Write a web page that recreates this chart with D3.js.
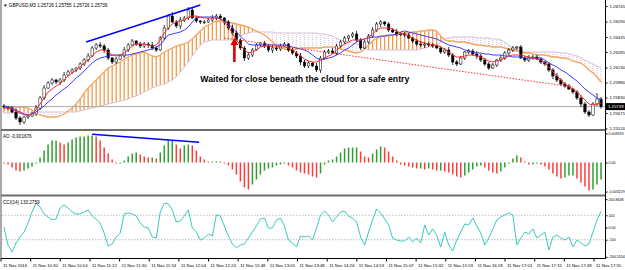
<!DOCTYPE html>
<html><head><meta charset="utf-8">
<script src="https://cdn.jsdelivr.net/npm/d3@7"></script>
<style>
html,body{margin:0;padding:0;background:#fff;}
svg{display:block;font-family:"Liberation Sans",Arial,sans-serif;}
</style></head><body>
<svg id="chart" width="625" height="270"></svg>
<script>
/* ---- data (GBPUSD M3) ---- */
var firstOpen = 1.25745;
var closes = [
 1.25735,1.25725,1.25685,1.25625,1.25585,1.25635,1.25645,1.25665,1.25725,1.25825,
 1.25925,1.25975,1.26005,1.25985,1.26005,1.26055,1.26085,1.26105,1.26125,1.26165,
 1.26205,1.26245,1.26325,1.26355,1.26345,1.26305,1.26225,1.26185,1.26215,1.26245,
 1.26305,1.26355,1.26395,1.26365,1.26345,1.26365,1.26355,1.26325,1.26305,1.26425,
 1.26525,1.26645,1.26585,1.26545,1.26605,1.26625,1.26705,1.26625,1.26595,1.26585,
 1.26585,1.26605,1.26625,1.26645,1.26625,1.26585,1.26525,1.26475,1.26405,1.26325,
 1.26225,1.26255,1.26305,1.26355,1.26375,1.26345,1.26305,1.26325,1.26315,1.26345,
 1.26365,1.26305,1.26275,1.26245,1.26185,1.26145,1.26175,1.26145,1.26105,1.26225,
 1.26285,1.26295,1.26275,1.26345,1.26385,1.26425,1.26445,1.26465,1.26405,1.26325,
 1.26385,1.26445,1.26505,1.26565,1.26585,1.26565,1.26505,1.26485,1.26465,1.26465,
 1.26455,1.26425,1.26395,1.26365,1.26355,1.26365,1.26355,1.26345,1.26325,1.26285,
 1.26305,1.26255,1.26185,1.26165,1.26225,1.26285,1.26295,1.26265,1.26245,1.26205,
 1.26165,1.26125,1.26155,1.26205,1.26225,1.26275,1.26305,1.26325,1.26335,1.26225,
 1.26205,1.26225,1.26235,1.26215,1.26185,1.26165,1.26105,1.26045,1.26005,1.25965,
 1.25945,1.25915,1.25885,1.25825,1.25765,1.25685,1.25655,1.25765,1.25815,1.25739];
// wick lengths beyond the body, in pips
var wickHi = [2,1,2,3,2,1,2,2,3,2, 3,2,2,1,2,3,2,2,1,2, 2,3,2,2,3,2,2,1,2,2, 3,2,2,1,2,2,2,3,2,2,
 3,2,4,2,3,2,3,2,2,1, 2,2,3,2,2,1,2,3,2,2, 2,3,2,2,1,2,2,3,2,2, 2,1,2,2,3,2,2,1,3,2,
 2,2,3,2,2,2,1,2,3,2, 2,2,3,2,2,1,2,2,3,2, 2,2,1,2,3,2,2,2,1,2, 2,3,2,2,2,1,2,2,3,2,
 2,2,2,1,3,2,2,2,1,2, 2,3,2,2,2,1,2,2,3,2, 2,2,1,2,3,2,2,2,6,2];
var wickLo = [2,2,1,2,3,2,2,1,2,2, 2,1,2,2,3,2,1,2,2,2, 2,2,1,2,2,3,2,2,2,1, 2,2,1,2,2,2,3,2,2,1,
 2,2,1,2,3,2,2,1,2,2, 2,1,2,2,2,3,2,2,1,2, 3,2,2,1,2,2,2,3,2,2, 1,2,2,2,3,2,2,1,2,3,
 2,2,1,2,2,2,3,2,2,2, 1,2,2,2,3,2,2,1,2,2, 2,1,2,2,2,3,2,2,1,2, 2,2,3,2,1,2,2,2,3,2,
 2,2,1,2,2,2,3,2,2,1, 2,2,2,1,2,2,2,3,2,2, 2,1,2,2,3,2,2,1,2,2];
var tenkan = [
 1.25725,1.25725,1.25715,1.25695,1.25675,1.25655,1.25655,1.25665,1.25705,1.25765,
 1.25825,1.25885,1.25915,1.25945,1.25965,1.26005,1.26045,1.26075,1.26105,1.26135,
 1.26175,1.26205,1.26245,1.26285,1.26305,1.26305,1.26285,1.26255,1.26245,1.26255,
 1.26275,1.26305,1.26345,1.26365,1.26365,1.26365,1.26355,1.26345,1.26355,1.26405,
 1.26475,1.26525,1.26565,1.26585,1.26595,1.26605,1.26635,1.26645,1.26645,1.26635,
 1.26625,1.26625,1.26625,1.26625,1.26615,1.26585,1.26535,1.26475,1.26405,1.26355,
 1.26305,1.26275,1.26285,1.26305,1.26335,1.26345,1.26345,1.26335,1.26335,1.26335,
 1.26335,1.26325,1.26305,1.26275,1.26245,1.26215,1.26195,1.26185,1.26185,1.26205,
 1.26225,1.26245,1.26265,1.26305,1.26335,1.26365,1.26385,1.26405,1.26405,1.26405,
 1.26415,1.26435,1.26465,1.26505,1.26525,1.26525,1.26525,1.26515,1.26495,1.26475,
 1.26465,1.26445,1.26425,1.26405,1.26385,1.26375,1.26365,1.26355,1.26355,1.26335,
 1.26315,1.26285,1.26255,1.26235,1.26235,1.26245,1.26255,1.26255,1.26245,1.26235,
 1.26215,1.26195,1.26185,1.26195,1.26205,1.26225,1.26245,1.26255,1.26255,1.26255,
 1.26245,1.26235,1.26225,1.26215,1.26205,1.26175,1.26135,1.26085,1.26045,1.26005,
 1.25965,1.25935,1.25915,1.25885,1.25845,1.25805,1.25765,1.25755,1.25765,1.25775];
var kijun = [
 1.25745,1.25735,1.25725,1.25705,1.25685,1.25665,1.25655,1.25665,1.25685,1.25715,
 1.25745,1.25785,1.25815,1.25855,1.25885,1.25915,1.25945,1.25985,1.26025,1.26055,
 1.26095,1.26135,1.26175,1.26205,1.26225,1.26235,1.26245,1.26255,1.26255,1.26255,
 1.26255,1.26255,1.26265,1.26275,1.26285,1.26295,1.26305,1.26315,1.26335,1.26355,
 1.26405,1.26455,1.26465,1.26475,1.26485,1.26505,1.26535,1.26585,1.26625,1.26635,
 1.26635,1.26635,1.26635,1.26635,1.26615,1.26595,1.26565,1.26525,1.26485,1.26445,
 1.26405,1.26365,1.26355,1.26355,1.26355,1.26355,1.26355,1.26355,1.26355,1.26355,
 1.26355,1.26345,1.26335,1.26325,1.26315,1.26305,1.26285,1.26255,1.26225,1.26205,
 1.26215,1.26225,1.26235,1.26255,1.26275,1.26305,1.26325,1.26355,1.26385,1.26405,
 1.26415,1.26425,1.26435,1.26435,1.26445,1.26445,1.26455,1.26455,1.26465,1.26485,
 1.26495,1.26485,1.26475,1.26465,1.26455,1.26445,1.26435,1.26425,1.26415,1.26395,
 1.26375,1.26355,1.26345,1.26335,1.26325,1.26305,1.26295,1.26285,1.26275,1.26275,
 1.26265,1.26265,1.26255,1.26255,1.26255,1.26245,1.26245,1.26235,1.26235,1.26235,
 1.26225,1.26225,1.26225,1.26225,1.26225,1.26205,1.26175,1.26155,1.26135,1.26105,
 1.26085,1.26055,1.26025,1.25995,1.25955,1.25915,1.25885,1.25855,1.25825,1.25805];
var spanA = [
 1.25735,1.25735,1.25735,1.25735,1.25735,1.25735,1.25725,1.25705,1.25675,1.25655,
 1.25645,1.25635,1.25635,1.25635,1.25645,1.25665,1.25695,1.25725,1.25765,1.25815,
 1.25875,1.25925,1.25965,1.26005,1.26045,1.26085,1.26125,1.26145,1.26165,1.26185,
 1.26215,1.26235,1.26255,1.26265,1.26275,1.26285,1.26265,1.26245,1.26235,1.26255,
 1.26285,1.26305,1.26325,1.26345,1.26355,1.26365,1.26385,1.26415,1.26455,1.26495,
 1.26535,1.26555,1.26575,1.26595,1.26595,1.26595,1.26585,1.26575,1.26565,1.26555,
 1.26545,1.26535,1.26515,1.26495,1.26475,1.26455,1.26425,1.26385,1.26345,1.26325,
 1.26315,1.26305,1.26305,1.26315,1.26325,1.26325,1.26325,1.26325,1.26325,1.26325,
 1.26335,1.26335,1.26335,1.26325,1.26315,1.26305,1.26295,1.26285,1.26275,1.26285,
 1.26315,1.26355,1.26395,1.26425,1.26435,1.26445,1.26445,1.26455,1.26455,1.26465,
 1.26475,1.26475,1.26485,1.26485,1.26495,1.26495,1.26505,1.26505,1.26495,1.26445,
 1.26405,1.26395,1.26395,1.26385,1.26385,1.26385,1.26375,1.26365,1.26355,1.26355,
 1.26345,1.26345,1.26335,1.26335,1.26335,1.26325,1.26315,1.26305,1.26295,1.26285,
 1.26275,1.26275,1.26265,1.26255,1.26255,1.26255,1.26245,1.26235,1.26235,1.26225,
 1.26225,1.26215,1.26195,1.26185,1.26175,1.26145,1.26105,1.26075,1.26035,1.25985];
var spanB = [
 1.25675,1.25675,1.25675,1.25675,1.25675,1.25675,1.25675,1.25675,1.25685,1.25685,
 1.25685,1.25685,1.25685,1.25685,1.25685,1.25685,1.25685,1.25685,1.25685,1.25695,
 1.25705,1.25715,1.25725,1.25735,1.25745,1.25755,1.25765,1.25775,1.25785,1.25795,
 1.25805,1.25815,1.25835,1.25845,1.25865,1.25885,1.25905,1.25925,1.25945,1.25955,
 1.25965,1.25985,1.26005,1.26035,1.26085,1.26135,1.26185,1.26245,1.26305,1.26355,
 1.26385,1.26395,1.26405,1.26405,1.26405,1.26405,1.26405,1.26405,1.26425,1.26445,
 1.26465,1.26475,1.26485,1.26485,1.26485,1.26485,1.26485,1.26485,1.26475,1.26475,
 1.26475,1.26475,1.26475,1.26475,1.26475,1.26475,1.26475,1.26475,1.26475,1.26465,
 1.26465,1.26455,1.26445,1.26425,1.26405,1.26395,1.26385,1.26375,1.26365,1.26345,
 1.26325,1.26305,1.26305,1.26305,1.26305,1.26305,1.26305,1.26305,1.26305,1.26305,
 1.26305,1.26305,1.26305,1.26305,1.26315,1.26325,1.26335,1.26345,1.26355,1.26385,
 1.26415,1.26425,1.26435,1.26435,1.26435,1.26435,1.26435,1.26435,1.26425,1.26425,
 1.26425,1.26425,1.26415,1.26415,1.26405,1.26385,1.26355,1.26325,1.26305,1.26295,
 1.26285,1.26285,1.26285,1.26285,1.26285,1.26285,1.26285,1.26285,1.26285,1.26275,
 1.26275,1.26265,1.26255,1.26245,1.26225,1.26205,1.26185,1.26165,1.26145,1.26125];
var ao = [
 -0.0001,-0.0002,-0.0005,-0.0008,-0.0009,-0.0008,-0.0006,-0.0004,-0.0001,0.0005,
 0.0012,0.0018,0.0022,0.0022,0.0020,0.0018,0.0020,0.0023,0.0025,0.0026,
 0.0026,0.0027,0.0027,0.0026,0.0022,0.0015,0.0009,0.0003,-0.0001,-0.0001,
 0.0002,0.0006,0.0009,0.0010,0.0008,0.0006,0.0005,0.0005,0.0004,0.0010,
 0.0017,0.0022,0.0022,0.0018,0.0014,0.0017,0.0018,0.0017,0.0012,0.0006,
 0.0003,0.0001,0.0001,0.0001,0.0001,-0.0001,-0.0003,-0.0007,-0.0012,-0.0019,
 -0.0025,-0.0027,-0.0022,-0.0017,-0.0012,-0.0008,-0.0006,-0.0005,-0.0003,-0.0002,
 -0.0001,-0.0003,-0.0005,-0.0008,-0.0010,-0.0011,-0.0012,-0.0014,-0.0015,-0.0011,
 -0.0002,0.0002,0.0003,0.0006,0.0010,0.0014,0.0015,0.0015,0.0015,0.0011,
 0.0006,0.0005,0.0009,0.0013,0.0016,0.0015,0.0011,0.0006,0.0002,-0.0002,
 -0.0003,-0.0004,-0.0005,-0.0006,-0.0006,-0.0007,-0.0006,-0.0007,-0.0008,-0.0008,
 -0.0009,-0.0010,-0.0012,-0.0014,-0.0015,-0.0013,-0.0010,-0.0007,-0.0004,-0.0003,
 -0.0005,-0.0008,-0.0010,-0.0011,-0.0009,-0.0005,-0.0001,0.0004,0.0007,0.0005,
 0.0001,-0.0002,-0.0002,-0.0001,-0.0002,-0.0004,-0.0007,-0.0011,-0.0014,-0.0016,
 -0.0015,-0.0013,-0.0013,-0.0016,-0.0020,-0.0024,-0.0028,-0.0027,-0.0022,-0.0017];
var cci = [
 4,-144,-200,-127,-78,-37,37,127,200,168,
 111,86,62,70,160,184,160,127,111,111,
 127,144,94,70,37,-45,-152,-135,-78,-45,
 111,119,111,94,37,4,-4,-78,-86,127,
 200,193,144,45,53,94,144,-4,-37,-103,
 -86,-53,-70,103,94,12,-70,-135,-168,-144,
 -135,-86,-37,12,70,78,-4,-4,62,78,
 12,-103,-127,-160,-70,-78,-70,-103,-4,103,
 135,103,45,86,127,135,94,78,45,-78,
 -144,-37,62,152,119,70,21,-86,-103,-111,
 -111,-78,-119,-86,-127,21,-62,-12,-62,-160,
 -37,-144,-193,-103,-37,29,21,78,12,-45,
 -144,-86,-12,62,86,103,119,103,-144,-86,
 -37,-53,-12,-86,-62,-37,-185,-78,-62,-86,
 -103,-78,-160,-103,-127,-152,-135,-37,62,133];

var timeLabels = ['11 Nov 2016','11 Nov 10:30','11 Nov 10:54','11 Nov 11:12','11 Nov 11:30',
 '11 Nov 11:54','11 Nov 12:04','11 Nov 12:24','11 Nov 12:48','11 Nov 13:05','11 Nov 13:48',
 '11 Nov 14:24','11 Nov 14:53','11 Nov 15:07','11 Nov 15:32','11 Nov 15:53','11 Nov 16:18',
 '11 Nov 17:01','11 Nov 17:15','11 Nov 17:38','11 Nov 17:55'];
var priceTicks = [1.26745,1.26590,1.26435,1.26285,1.26130,1.25980,1.25830,1.25675,1.25520];
var lastPrice = 1.25739;
var aoTickVals = [0.0029,0,-0.0029], aoTickText = ['0.003593','0.00','-0.003219'];
var cciTickVals = [232,100,0,-100,-240], cciTickText = ['200.8638','100','0.00','-100','-200.5554'];
var cciLevels = [100,-100];
// drawn objects (bar index, value)
var trendUp = [[20.5,1.26385],[49,1.26755]];
var trendDown = [[55,1.26425],[142,1.25935]];
var aoTrend = [[22,0.00282],[48.7,0.00202]];
var arrowPts = [[57.5,1.26185],[57.5,1.26425]];
var noteAt = [49,1.25985];
var noteText = 'Waited for close beneath the cloud for a safe entry';
var header = '\u25BC GBPUSD,M3  1.25726 1.25755 1.25726 1.25739';

/* ---- layout ---- */
var PIP = 0.0001, N = closes.length;
var AX = 605;
var svg = d3.select('#chart');
var x = d3.scaleLinear().domain([0, N-1]).range([4, 601]);
var yP = d3.scaleLinear().domain([1.25550, 1.26750]).range([125.5, 5.5]);
var yA = d3.scaleLinear().domain([-0.0032, 0.0032]).range([194.5, 130.5]);
var yC = d3.scaleLinear().domain([-250, 250]).range([258, 197]);
var xT = d3.scalePoint().domain(timeLabels).range([0.5, 593.5]);

svg.append('rect').attr('width',625).attr('height',270).attr('fill','#fff');
var defs = svg.append('defs');
defs.append('clipPath').attr('id','cMain').append('rect').attr('x',2).attr('y',1).attr('width',AX-2).attr('height',128);

var main = svg.append('g').attr('clip-path','url(#cMain)');

/* Ichimoku cloud (histogram between span A and span B) */
spanA.forEach(function(a,i){
  var b = spanB[i], up = a >= b;
  main.append('line').attr('x1',x(i)).attr('x2',x(i))
    .attr('y1',yP(a)).attr('y2',yP(b))
    .attr('stroke', up ? '#f39a4c' : '#dcc4dc')
    .attr('stroke-width', up ? 1.3 : 1.2)
    .attr('stroke-dasharray', up ? null : '1,1');
});
var line = function(arr){ return d3.line().x(function(d,i){return x(i);}).y(function(d){return yP(d);})(arr); };
main.append('path').attr('d',line(spanB)).attr('fill','none').attr('stroke','#d8bfd8').attr('stroke-width',1);
main.append('path').attr('d',line(spanA)).attr('fill','none').attr('stroke','#f4a460').attr('stroke-width',1.3);

/* bid line */
main.append('line').attr('x1',2).attr('x2',AX).attr('y1',yP(lastPrice)).attr('y2',yP(lastPrice))
  .attr('stroke','#a8a8a8').attr('stroke-width',1);

/* candles */
closes.forEach(function(c,i){
  var o = i ? closes[i-1] : firstOpen;
  var hi = Math.max(o,c) + wickHi[i]*PIP, lo = Math.min(o,c) - wickLo[i]*PIP;
  var cx = x(i);
  main.append('line').attr('x1',cx).attr('x2',cx).attr('y1',yP(hi)).attr('y2',yP(lo))
    .attr('stroke','#000').attr('stroke-width',0.8);
  var t = yP(Math.max(o,c)), b = yP(Math.min(o,c));
  main.append('rect').attr('x',cx-1.2).attr('y',t).attr('width',2.4).attr('height',Math.max(0.8,b-t))
    .attr('fill', c >= o ? '#fff' : '#000').attr('stroke','#000').attr('stroke-width',0.5);
});

/* tenkan / kijun */
main.append('path').attr('d',line(kijun)).attr('fill','none').attr('stroke','#3c3cff').attr('stroke-width',1);
main.append('path').attr('d',line(tenkan)).attr('fill','none').attr('stroke','#ff2a2a').attr('stroke-width',1);

/* drawings */
var seg = d3.line().x(function(d){return x(d[0]);});
main.append('path').attr('d',seg.y(function(d){return yP(d[1]);})(trendUp))
  .attr('stroke','#0000ff').attr('stroke-width',1.4).attr('fill','none');
main.append('path').attr('d',seg.y(function(d){return yP(d[1]);})(trendDown))
  .attr('stroke','#ff3030').attr('stroke-width',1).attr('stroke-dasharray','1.5,1.5').attr('fill','none');

var ax0 = x(arrowPts[0][0]), ayB = yP(arrowPts[0][1]), ayT = yP(arrowPts[1][1]);
main.append('path')
  .attr('d','M'+(ax0-1.3)+','+ayB+'L'+(ax0-1.3)+','+(ayT+7)+'L'+(ax0-4)+','+(ayT+7)+'L'+ax0+','+ayT+
            'L'+(ax0+4)+','+(ayT+7)+'L'+(ax0+1.3)+','+(ayT+7)+'L'+(ax0+1.3)+','+ayB+'Z')
  .attr('fill','#e00000');

var note = svg.append('text').attr('x',x(noteAt[0])).attr('y',yP(noteAt[1]))
  .attr('font-size','10px').attr('font-weight','bold').attr('fill','#000').text(noteText);
var nl = note.node().getComputedTextLength();
note.attr('font-size', (10*209/nl).toFixed(2)+'px');

/* AO histogram */
var gA = svg.append('g');
ao.forEach(function(v,i){
  var up = i === 0 ? v >= 0 : v >= ao[i-1];
  gA.append('line').attr('x1',x(i)).attr('x2',x(i)).attr('y1',yA(0)).attr('y2',yA(v))
    .attr('stroke', up ? '#2e9e2e' : '#ff3b3b').attr('stroke-width',1.5);
});
gA.append('path').attr('d',seg.y(function(d){return yA(d[1]);})(aoTrend))
  .attr('stroke','#0000ff').attr('stroke-width',1.4).attr('fill','none');

/* CCI */
var gC = svg.append('g');
cciLevels.forEach(function(l){
  gC.append('line').attr('x1',2).attr('x2',AX).attr('y1',yC(l)).attr('y2',yC(l))
    .attr('stroke','#c0c0c0').attr('stroke-dasharray','1.5,1.5');
});
gC.append('path').attr('d',d3.line().x(function(d,i){return x(i);}).y(function(d){return yC(d);})(cci))
  .attr('fill','none').attr('stroke','#3cc8c0').attr('stroke-width',1);

/* frames */
var fr = svg.append('g');
fr.append('line').attr('x1',1).attr('x2',1).attr('y1',0).attr('y2',259).attr('stroke','#555');
fr.append('line').attr('x1',AX+0.5).attr('x2',AX+0.5).attr('y1',0).attr('y2',259).attr('stroke','#000');
[130, 195.5].forEach(function(yy){
  fr.append('line').attr('x1',1).attr('x2',AX).attr('y1',yy).attr('y2',yy).attr('stroke','#6e6e6e').attr('stroke-width',2.2);
});
fr.append('line').attr('x1',1).attr('x2',AX).attr('y1',258.5).attr('y2',258.5).attr('stroke','#000');

/* axes */
function styleAxis(fs){
  return function(g){
    g.select('.domain').remove();
    g.selectAll('line').attr('stroke','#000');
    g.selectAll('text').attr('font-size',fs).attr('fill','#000').attr('font-family','"Liberation Sans",Arial,sans-serif');
  };
}
svg.append('g').attr('transform','translate('+(AX+0.5)+',0)')
  .call(d3.axisRight(yP).tickValues(priceTicks).tickFormat(d3.format('.5f')).tickSize(2).tickPadding(2))
  .call(styleAxis('4.3px'));
svg.append('g').attr('transform','translate('+(AX+0.5)+',0)')
  .call(d3.axisRight(yA).tickValues(aoTickVals).tickFormat(function(d,i){return aoTickText[i];}).tickSize(2).tickPadding(1))
  .call(styleAxis('3.6px'));
svg.append('g').attr('transform','translate('+(AX+0.5)+',0)')
  .call(d3.axisRight(yC).tickValues(cciTickVals).tickFormat(function(d,i){return cciTickText[i];}).tickSize(2).tickPadding(1))
  .call(styleAxis('3.6px'));
var tx = svg.append('g').attr('transform','translate(0,258.5)')
  .call(d3.axisBottom(xT).tickSize(3).tickPadding(2)).call(styleAxis('4.3px'));
tx.selectAll('text').attr('text-anchor','start').attr('x',2);

/* last price box */
var ly = yP(lastPrice);
svg.append('rect').attr('x',AX+1).attr('y',ly-3.5).attr('width',19).attr('height',7).attr('fill','#000');
svg.append('text').attr('x',AX+3).attr('y',ly+1.6).attr('font-size','4.3px').attr('fill','#fff').text(d3.format('.5f')(lastPrice));

/* titles */
svg.append('text').attr('x',3).attr('y',6.5).attr('font-size','4.6px').attr('fill','#000').text(header);
svg.append('text').attr('x',3).attr('y',137.5).attr('font-size','4.6px').attr('fill','#000').text('AO -0.001676');
svg.append('text').attr('x',3).attr('y',204).attr('font-size','4.6px').attr('fill','#000').text('CCI(14) 133.2759');
</script>
</body></html>
